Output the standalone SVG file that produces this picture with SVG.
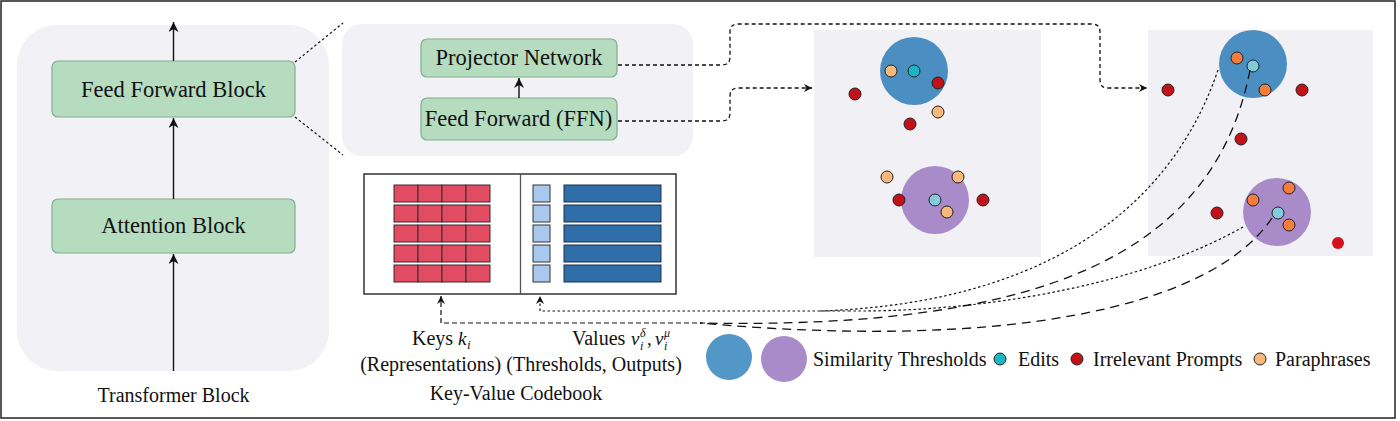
<svg xmlns="http://www.w3.org/2000/svg" width="1400" height="421" viewBox="0 0 1400 421">
<defs>
<marker id="ah" viewBox="0 0 10 10" refX="10" refY="5" markerWidth="11" markerHeight="10" markerUnits="userSpaceOnUse" orient="auto">
<path d="M0,0 L10,5 L0,10 L3,5 z" fill="#111"/>
</marker>
<marker id="ahs" viewBox="0 0 10 10" refX="10" refY="5" markerWidth="9" markerHeight="8" markerUnits="userSpaceOnUse" orient="auto">
<path d="M0,0 L10,5 L0,10 L3,5 z" fill="#111"/>
</marker>
</defs>
<style>
text{font-family:"Liberation Serif","Times New Roman",serif;fill:#111}
.panel{fill:#f1f1f6}
.blk{fill:#b6dcc0;stroke:#7faf8e;stroke-width:1.2}
.plot{fill:#f0f0f5}
.key{fill:#e24c62;stroke:#3a2a2e;stroke-width:1}
.thr{fill:#a9c8ee;stroke:#333;stroke-width:1}
.val{fill:#2f6ea8;stroke:#1d2f4a;stroke-width:1}
.red{fill:#c11219;stroke:#222;stroke-width:1}
.par{fill:#f8b87c;stroke:#222;stroke-width:1}
.par2{fill:#f47c3c;stroke:#222;stroke-width:1}
.edit{fill:#1bb5c6;stroke:#222;stroke-width:1}
.edit2{fill:#82cbdc;stroke:#222;stroke-width:1}
.bc{fill:#4b8ec2}
.pc{fill:#a98bc9}
.solid{fill:none;stroke:#111;stroke-width:1.4}
.dot{fill:none;stroke:#111;stroke-width:1.3;stroke-dasharray:4 3}
.fine{fill:none;stroke:#111;stroke-width:1.2;stroke-dasharray:2.5 2.5}
.dash{fill:none;stroke:#111;stroke-width:1.3;stroke-dasharray:9 6}
.kdash{fill:none;stroke:#111;stroke-width:1.2;stroke-dasharray:5 3}
</style>
<rect x="1" y="1" width="1394" height="417" fill="#fff" stroke="#222" stroke-width="1.5"/>

<g id="transformer">
<rect class="panel" x="17" y="25" width="312" height="346" rx="40"/>
<text x="173.5" y="402" font-size="20" text-anchor="middle">Transformer Block</text>
</g>
<g id="ffb">
<rect class="blk" x="52" y="61" width="243" height="56" rx="6"/>
<text x="173.5" y="97" font-size="22.5" text-anchor="middle">Feed Forward Block</text>
</g>
<g id="attn">
<rect class="blk" x="52" y="199" width="243" height="54" rx="6"/>
<text x="173.5" y="233" font-size="22.5" text-anchor="middle">Attention Block</text>
</g>

<g id="ffn-panel">
<rect class="panel" x="342" y="24" width="351" height="132" rx="20"/>
</g>
<g id="projector">
<rect class="blk" x="421" y="39" width="196" height="38" rx="6"/>
<text x="519" y="65" font-size="22.5" text-anchor="middle">Projector Network</text>
</g>
<g id="ffn">
<rect class="blk" x="421" y="98" width="196" height="42" rx="6"/>
<text x="518.5" y="126" font-size="22.5" text-anchor="middle">Feed Forward (FFN)</text>
</g>

<g id="codebook">
<rect x="364" y="174" width="312" height="120" fill="#fff" stroke="#333" stroke-width="1.5"/>
<line x1="520.5" y1="174" x2="520.5" y2="294" stroke="#555" stroke-width="1.3"/>
<g>
<rect class="key" x="394" y="185" width="24" height="17"/><rect class="key" x="418" y="185" width="24" height="17"/><rect class="key" x="442" y="185" width="24" height="17"/><rect class="key" x="466" y="185" width="24" height="17"/>
<rect class="key" x="394" y="205" width="24" height="17"/><rect class="key" x="418" y="205" width="24" height="17"/><rect class="key" x="442" y="205" width="24" height="17"/><rect class="key" x="466" y="205" width="24" height="17"/>
<rect class="key" x="394" y="225" width="24" height="17"/><rect class="key" x="418" y="225" width="24" height="17"/><rect class="key" x="442" y="225" width="24" height="17"/><rect class="key" x="466" y="225" width="24" height="17"/>
<rect class="key" x="394" y="245" width="24" height="17"/><rect class="key" x="418" y="245" width="24" height="17"/><rect class="key" x="442" y="245" width="24" height="17"/><rect class="key" x="466" y="245" width="24" height="17"/>
<rect class="key" x="394" y="265" width="24" height="17"/><rect class="key" x="418" y="265" width="24" height="17"/><rect class="key" x="442" y="265" width="24" height="17"/><rect class="key" x="466" y="265" width="24" height="17"/>
</g>
<g>
<rect class="thr" x="533" y="185" width="17" height="17"/><rect class="thr" x="533" y="205" width="17" height="17"/><rect class="thr" x="533" y="225" width="17" height="17"/><rect class="thr" x="533" y="245" width="17" height="17"/><rect class="thr" x="533" y="265" width="17" height="17"/>
<rect class="val" x="564" y="185" width="97" height="17"/><rect class="val" x="564" y="205" width="97" height="17"/><rect class="val" x="564" y="225" width="97" height="17"/><rect class="val" x="564" y="245" width="97" height="17"/><rect class="val" x="564" y="265" width="97" height="17"/>
</g>
<text x="412" y="345" font-size="20">Keys</text>
<text x="458" y="345" font-size="19" font-style="italic">k</text>
<text x="467" y="349" font-size="13" font-style="italic">i</text>
<text x="572" y="345" font-size="20">Values</text>
<text x="631" y="345" font-size="19" font-style="italic">v</text>
<text x="640" y="337" font-size="12" font-style="italic">δ</text>
<text x="640" y="350" font-size="12" font-style="italic">i</text>
<text x="647" y="345" font-size="19">,</text>
<text x="655" y="345" font-size="19" font-style="italic">v</text>
<text x="664" y="337" font-size="12" font-style="italic">μ</text>
<text x="664" y="350" font-size="12" font-style="italic">i</text>
<text x="521" y="371" font-size="20" text-anchor="middle">(Representations) (Thresholds, Outputs)</text>
<text x="516" y="400" font-size="20" text-anchor="middle">Key-Value Codebook</text>
</g>

<g id="plot1">
<rect class="plot" x="814" y="30" width="227" height="227"/>
<circle class="bc" cx="914" cy="71" r="34"/>
<circle class="pc" cx="935" cy="200" r="34"/>
<circle class="par" cx="891" cy="71" r="6"/>
<circle class="edit" cx="914" cy="71" r="6"/>
<circle class="red" cx="938" cy="83" r="6"/>
<circle class="red" cx="855" cy="94" r="6"/>
<circle class="par" cx="938" cy="112" r="6"/>
<circle class="red" cx="910" cy="124" r="6"/>
<circle class="par" cx="887" cy="177" r="6"/>
<circle class="par" cx="958" cy="177" r="6"/>
<circle class="red" cx="899" cy="200" r="6"/>
<circle class="edit2" cx="935" cy="200" r="6"/>
<circle class="par" cx="947" cy="212" r="6"/>
<circle class="red" cx="983" cy="200" r="6"/>
</g>

<g id="plot2">
<rect class="plot" x="1148" y="30" width="225" height="226"/>
<circle class="bc" cx="1253" cy="64" r="34"/>
<circle class="pc" cx="1277" cy="212" r="34"/>
<circle class="par2" cx="1237" cy="58" r="6"/>
<circle class="edit2" cx="1253" cy="66" r="6"/>
<circle class="par2" cx="1265" cy="90" r="6"/>
<circle class="red" cx="1302" cy="90" r="6"/>
<circle class="red" cx="1168" cy="90" r="6"/>
<circle class="red" cx="1241" cy="139" r="6"/>
<circle class="par2" cx="1253" cy="200" r="6"/>
<circle class="par2" cx="1289" cy="188" r="6"/>
<circle class="edit2" cx="1278" cy="213" r="6"/>
<circle class="par2" cx="1289" cy="225" r="6"/>
<circle class="red" cx="1217" cy="213" r="6"/>
<circle cx="1338" cy="243" r="6" fill="#d4101a"/>
</g>

<g id="legend">
<circle cx="729" cy="357" r="23" fill="#5396c8"/>
<circle cx="784" cy="359" r="23" fill="#a98bc9"/>
<text x="813" y="366" font-size="20">Similarity Thresholds</text>
<circle class="edit" cx="1000" cy="359" r="6"/>
<text x="1018" y="366" font-size="20">Edits</text>
<circle class="red" cx="1077" cy="359" r="6"/>
<text x="1093" y="366" font-size="20">Irrelevant Prompts</text>
<circle class="par" cx="1260" cy="359" r="6"/>
<text x="1275" y="366" font-size="20">Paraphrases</text>
</g>

<g id="connectors">
<line class="solid" x1="173.5" y1="61" x2="173.5" y2="22" marker-end="url(#ah)"/>
<line class="solid" x1="173.5" y1="199" x2="173.5" y2="118" marker-end="url(#ah)"/>
<line class="solid" x1="173.5" y1="371" x2="173.5" y2="254" marker-end="url(#ah)"/>
<line class="solid" x1="519" y1="98" x2="519" y2="78" marker-end="url(#ah)"/>
<line class="fine" x1="295" y1="62" x2="343" y2="23"/>
<line class="fine" x1="295" y1="117" x2="343" y2="155"/>
<path class="dot" d="M618,65 L722,65 Q730,65 730,57 L730,32 Q730,24 738,24 L1092,24 Q1100,24 1100,32 L1100,80 Q1100,88 1108,88 L1147,88" marker-end="url(#ahs)"/>
<path class="dot" d="M618,121 L722,121 Q730,121 730,113 L730,96 Q730,88 738,88 L812,88" marker-end="url(#ahs)"/>
<path class="kdash" d="M705,323 L441,323 L441,296" marker-end="url(#ahs)"/>
<path class="fine" d="M850,311 L540,311 L540,296" marker-end="url(#ahs)"/>
<path class="fine" d="M1218,70 C1160,240 1000,305 820,311"/>
<path class="fine" d="M1243,227 C1150,280 1000,312 850,311"/>
<path class="dash" d="M1250,70 C1215,250 1050,330 700,323"/>
<path class="dash" d="M1272,218 C1210,310 1000,350 700,323"/>
</g>
</svg>
